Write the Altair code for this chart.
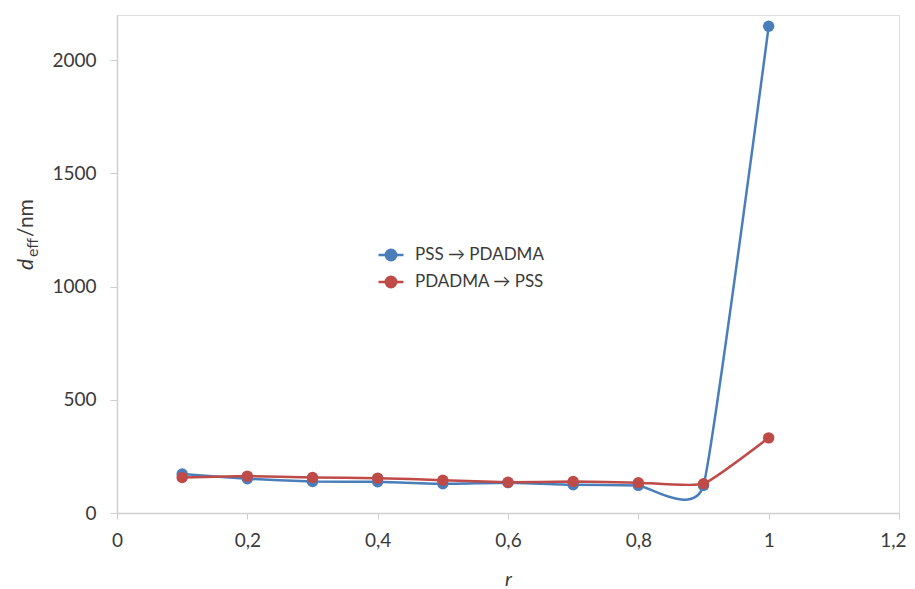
import altair as alt
import pandas as pd

r_values = [0.1, 0.2, 0.3, 0.4, 0.5, 0.6, 0.7, 0.8, 0.9, 1.0]
pss_pdadma = [172, 151, 139, 138, 129, 134, 125, 122, 122, 2150]
pdadma_pss = [157, 163, 157, 154, 145, 136, 139, 134, 129, 332]
series_names = ["PSS \u2192 PDADMA", "PDADMA \u2192 PSS"]
series_colors = ["#4A7EBB", "#BE4B48"]
x_ticks = [0, 0.2, 0.4, 0.6, 0.8, 1.0, 1.2]
y_ticks = [0, 500, 1000, 1500, 2000]

rows = []
for name, vals in zip(series_names, [pss_pdadma, pdadma_pss]):
    for r, v in zip(r_values, vals):
        rows.append({"r": r, "d": v, "series": name})
df = pd.DataFrame(rows)

FONT = "Lato"
LABEL_COLOR = "#3A3A3A"
AXIS_COLOR = "#D0D0D0"

x_enc = alt.X(
    "r:Q",
    scale=alt.Scale(domain=[0, 1.2], nice=False, zero=False),
    axis=alt.Axis(
        values=x_ticks,
        labelExpr="replace(format(datum.value, '.1~f'), '.', ',')",
        labelAlign=alt.ExprRef(expr="datum.value >= 1.2 ? 'right' : 'center'"),
        labelOffset=alt.ExprRef(expr="datum.value >= 1.2 ? 7 : 0"),
        title="r",
        titleFontStyle="italic",
        titleFontWeight="normal",
        titleFontSize=20,
        titleColor=LABEL_COLOR,
        titleFont=FONT,
        titlePadding=19,
        grid=False,
        tickSize=6,
        tickColor=AXIS_COLOR,
        domainColor=AXIS_COLOR,
        domainWidth=1.5,
        labelFontSize=19,
        labelFont=FONT,
        labelColor=LABEL_COLOR,
        labelPadding=12,
        labelFlush=False,
    ),
)
y_enc = alt.Y(
    "d:Q",
    scale=alt.Scale(domain=[0, 2200], nice=False),
    axis=alt.Axis(
        values=y_ticks,
        format="d",
        title=None,
        grid=False,
        tickSize=7,
        tickColor=AXIS_COLOR,
        domainColor=AXIS_COLOR,
        domainWidth=1.5,
        labelFontSize=19,
        labelFont=FONT,
        labelColor=LABEL_COLOR,
        labelPadding=14,
        labelFlush=False,
    ),
)
color_enc = alt.Color(
    "series:N",
    scale=alt.Scale(domain=series_names, range=series_colors),
    sort=series_names,
    legend=alt.Legend(
        title=None,
        orient="none",
        legendX=260,
        legendY=226,
        symbolType="M-1,0L1,0M-0.42,0A0.42,0.42,0,1,0,0.42,0A0.42,0.42,0,1,0,-0.42,0Z",
        symbolSize=625,
        symbolStrokeWidth=2.5,
        labelFontSize=17,
        labelFont=FONT,
        labelColor=LABEL_COLOR,
        rowPadding=2,
        labelOffset=10,
    ),
)

base = alt.Chart(df)
lines = base.mark_line(interpolate="cardinal", tension=0.58, strokeWidth=2.5).encode(
    x=x_enc, y=y_enc, color=color_enc, detail="series:N"
)
points = base.mark_point(filled=True, size=130, opacity=1).encode(
    x="r:Q", y="d:Q", color=alt.Color("series:N", scale=alt.Scale(domain=series_names, range=series_colors), legend=None)
)

title_df = pd.DataFrame({"t": ["d", "eff", "/nm"]})
t_d = alt.Chart(title_df.iloc[[0]]).mark_text(
    angle=270, align="left", baseline="alphabetic", font=FONT, fontSize=21, fontStyle="italic", color=LABEL_COLOR
).encode(text="t:N", x=alt.value(-84), y=alt.value(255))
t_eff = alt.Chart(title_df.iloc[[1]]).mark_text(
    angle=270, align="left", baseline="alphabetic", font=FONT, fontSize=16, color=LABEL_COLOR
).encode(text="t:N", x=alt.value(-79), y=alt.value(242))
t_nm = alt.Chart(title_df.iloc[[2]]).mark_text(
    angle=270, align="left", baseline="alphabetic", font=FONT, fontSize=21, color=LABEL_COLOR
).encode(text="t:N", x=alt.value(-84), y=alt.value(222))

chart = (
    alt.layer(lines, points, t_d, t_eff, t_nm)
    .properties(
        width=782,
        height=498,
        autosize=alt.AutoSizeParams(type="none"),
        padding={"left": 109, "top": 7, "right": 8, "bottom": 76},
    )
    .configure_view(stroke=None)
    .configure(background="white")
)

chart.save("out.html", embed_options={"renderer": "svg", "actions": False})
